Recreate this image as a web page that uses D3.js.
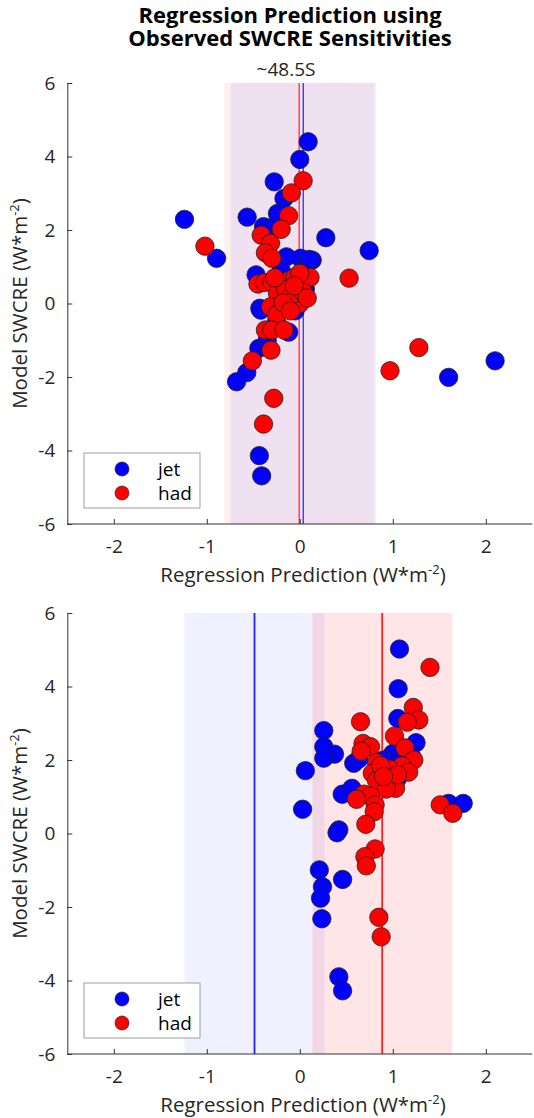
<!DOCTYPE html>
<html>
<head>
<meta charset="utf-8">
<script src="https://cdn.jsdelivr.net/npm/d3@7"></script>
<style>
  body { margin: 0; background: #fff; }
  text { font-family: "Open Sans", "Noto Sans", sans-serif; fill: #262626; }
</style>
</head>
<body>
<div id="chart"></div>
<script>
// ---- data ----
const xTicks = [-2, -1, 0, 1, 2];
const yTicks = [-6, -4, -2, 0, 2, 4, 6];
const seriesNames = ["jet", "had"];

// top panel (~48.5S)
const topJet = [[-1.24,2.29],[-0.895,1.23],[-0.566,2.35],[-0.275,3.31],[-0.17,2.86],[0.0,3.92],[0.09,4.40],
  [-0.24,2.45],[-0.39,2.09],[-0.315,2.06],[0.28,1.79],[0.746,1.44],[-0.143,1.27],[0.008,1.23],[0.133,1.18],
  [0.10,1.20],[-0.47,0.78],[0.04,0.37],[0.06,0.40],[-0.43,-0.13],[-0.42,-0.18],[-0.12,-0.78],[-0.44,-1.22],
  [-0.57,-1.88],[-0.68,-2.13],[-0.435,-4.14],[-0.41,-4.69],[1.6,-2.01],[2.1,-1.56],[-0.2,0.9],[-0.08,0.3],
  [0.02,0.85],[-0.25,-0.5],[-0.05,-0.2],[-0.35,-1.0],[-0.15,0.1]];
const topHad = [[-1.02,1.56],[0.036,3.34],[-0.09,3.01],[-0.12,2.39],[-0.2,2.02],[-0.415,1.86],[-0.315,1.64],
  [-0.37,1.38],[-0.3,1.23],[0.11,0.71],[0.53,0.69],[-0.45,0.53],[-0.38,0.57],[-0.3,0.58],[-0.2,0.55],
  [-0.12,0.62],[-0.05,0.72],[0.0,0.82],[-0.24,0.28],[-0.03,0.05],[0.0,0.0],[-0.315,-0.09],[-0.25,-0.31],
  [-0.37,-0.72],[-0.3,-0.72],[-0.17,-0.72],[-0.31,-1.27],[-0.51,-1.56],[-0.28,-2.58],[-0.39,-3.28],
  [1.28,-1.2],[0.97,-1.83],[-0.15,0.38],[-0.08,0.25],[0.04,0.3],[-0.18,0.02],[-0.06,0.48],[-0.27,0.7],
  [-0.1,-0.2],[0.08,0.15]];
const topJetMean = 0.037, topJetRange = [-0.745, 0.82];
const topHadMean = -0.007, topHadRange = [-0.81, 0.80];

// bottom panel
const botJet = [[1.072,5.02],[1.058,3.94],[1.054,3.13],[1.25,2.47],[0.258,2.80],[0.258,2.36],[0.373,2.16],
  [0.258,2.05],[0.06,1.71],[0.03,0.66],[0.456,1.07],[0.56,1.23],[0.58,1.91],[0.635,2.03],[1.0,2.18],
  [1.2,2.1],[0.42,0.1],[0.40,0.02],[1.6,0.82],[1.757,0.82],[0.21,-0.99],[0.46,-1.25],[0.244,-1.45],
  [0.223,-1.76],[0.237,-2.32],[0.42,-3.9],[0.46,-4.28],[1.05,1.5],[0.9,2.0]];
const botHad = [[1.4,4.52],[1.22,3.43],[1.28,3.09],[1.155,3.03],[0.653,3.04],[1.018,2.65],[1.13,2.33],
  [0.68,2.45],[0.76,2.36],[0.66,2.24],[1.226,2.0],[0.825,1.93],[1.1,1.84],[0.968,1.75],[1.17,1.67],
  [0.78,1.64],[0.825,1.44],[1.03,1.23],[0.93,1.21],[0.69,1.07],[0.76,1.02],[0.61,0.93],[0.81,0.78],
  [0.80,0.59],[0.71,0.25],[0.81,-0.42],[0.70,-0.63],[0.715,-0.88],[0.85,-2.28],[0.875,-2.81],
  [1.51,0.78],[1.645,0.55],[0.87,1.85],[1.05,1.6],[0.9,1.55]];
const botJetMean = -0.487, botJetRange = [-1.24, 0.266];
const botHadMean = 0.886, botHadRange = [0.136, 1.64];

const width = 534, height = 1118;
const svg = d3.select("#chart").append("svg")
    .attr("width", width)
    .attr("height", height);

const x = d3.scaleLinear().domain([-2.5, 2.5]).range([67.3, 532.3]);

// title
svg.append("text")
    .attr("x", 290).attr("y", 23)
    .attr("text-anchor", "middle")
    .style("font-size", "22px").style("font-weight", "bold").style("fill", "#000")
    .text("Regression Prediction using");
svg.append("text")
    .attr("x", 290).attr("y", 46)
    .attr("text-anchor", "middle")
    .style("font-size", "22px").style("font-weight", "bold").style("fill", "#000")
    .text("Observed SWCRE Sensitivities");

drawPanel({top: 83, bottom: 524, jet: topJet, had: topHad,
  jetMean: topJetMean, jetRange: topJetRange, hadMean: topHadMean, hadRange: topHadRange,
  hadAlpha: 0.06, subtitle: "~48.5S", lineWidth: 1.2});
drawPanel({top: 613, bottom: 1054, jet: botJet, had: botHad,
  jetMean: botJetMean, jetRange: botJetRange, hadMean: botHadMean, hadRange: botHadRange,
  hadAlpha: 0.1, subtitle: null, lineWidth: 1.8});

function drawPanel(p){
  const y = d3.scaleLinear().domain([-6, 6]).range([p.bottom, p.top]);
  const g = svg.append("g");

  // uncertainty bands
  g.append("rect")
      .attr("x", x(p.jetRange[0])).attr("y", p.top)
      .attr("width", x(p.jetRange[1]) - x(p.jetRange[0]))
      .attr("height", p.bottom - p.top)
      .style("fill", "blue").style("fill-opacity", 0.06);
  g.append("rect")
      .attr("x", x(p.hadRange[0])).attr("y", p.top)
      .attr("width", x(p.hadRange[1]) - x(p.hadRange[0]))
      .attr("height", p.bottom - p.top)
      .style("fill", "red").style("fill-opacity", p.hadAlpha);

  // mean lines
  g.append("line")
      .attr("x1", x(p.hadMean)).attr("x2", x(p.hadMean))
      .attr("y1", p.top).attr("y2", p.bottom)
      .style("stroke", "#ff2020").style("stroke-width", p.lineWidth);
  g.append("line")
      .attr("x1", x(p.jetMean)).attr("x2", x(p.jetMean))
      .attr("y1", p.top).attr("y2", p.bottom)
      .style("stroke", "#2020ff").style("stroke-width", p.lineWidth);

  // axes
  const fmt = d => String(d);
  const xAxis = d3.axisBottom(x).tickValues(xTicks).tickFormat(fmt).tickSizeInner(-5).tickSizeOuter(0);
  const yAxis = d3.axisLeft(y).tickValues(yTicks).tickFormat(fmt).tickSizeInner(-5).tickSizeOuter(0).tickPadding(12);
  const gx = g.append("g").attr("transform", "translate(0," + p.bottom + ")").call(xAxis);
  const gy = g.append("g").attr("transform", "translate(" + x.range()[0] + ",0)").call(yAxis);
  [gx, gy].forEach(a => {
    a.select(".domain").style("stroke", "#333").style("stroke-width", 1);
    a.selectAll(".tick line").style("stroke", "#333");
    a.selectAll(".tick text").style("font-size", "19px").style("fill", "#262626");
  });
  gx.select(".domain").attr("d", "M" + x.range()[0] + ",0H" + x.range()[1]);
  gx.selectAll(".tick text").attr("y", 29).attr("dy", 0);

  // points
  const series = [{name: "jet", pts: p.jet, color: "#0000ff"}, {name: "had", pts: p.had, color: "#ff0000"}];
  series.forEach(s => {
    g.append("g").selectAll("circle")
      .data(s.pts)
      .enter().append("circle")
      .attr("cx", d => x(d[0]))
      .attr("cy", d => y(d[1]))
      .attr("r", 9.2)
      .style("fill", s.color)
      .style("stroke", "#222")
      .style("stroke-width", 0.8);
  });

  // axis labels
  const xl = g.append("text")
      .attr("x", 303).attr("y", p.bottom + 58)
      .attr("text-anchor", "middle")
      .style("font-size", "20.5px");
  xl.append("tspan").text("Regression Prediction (W*m");
  xl.append("tspan").attr("dy", -8).style("font-size", "13px").text("-2");
  xl.append("tspan").attr("dy", 8).text(")");

  const yl = g.append("text")
      .attr("transform", "translate(27," + ((p.top + p.bottom) / 2) + ") rotate(-90)")
      .attr("text-anchor", "middle")
      .style("font-size", "20.5px");
  yl.append("tspan").text("Model SWCRE (W*m");
  yl.append("tspan").attr("dy", -8).style("font-size", "13px").text("-2");
  yl.append("tspan").attr("dy", 8).text(")");

  if (p.subtitle) {
    g.append("text")
      .attr("x", 286).attr("y", p.top - 7)
      .attr("text-anchor", "middle")
      .style("font-size", "19px")
      .text(p.subtitle);
  }

  // legend
  const lg = g.append("g").attr("transform", "translate(84," + (p.bottom - 71) + ")");
  lg.append("rect")
      .attr("width", 116).attr("height", 55)
      .style("fill", "#fff").style("stroke", "#888").style("stroke-width", 0.8);
  series.forEach((s, i) => {
    lg.append("circle")
      .attr("cx", 38).attr("cy", 16 + i * 24).attr("r", 7)
      .style("fill", s.color).style("stroke", "#222").style("stroke-width", 0.7);
    lg.append("text")
      .attr("x", 74).attr("y", 16 + i * 24).attr("dy", "0.35em")
      .style("font-size", "19px").style("fill", "#000")
      .text(seriesNames[i]);
  });
}
</script>
</body>
</html>
